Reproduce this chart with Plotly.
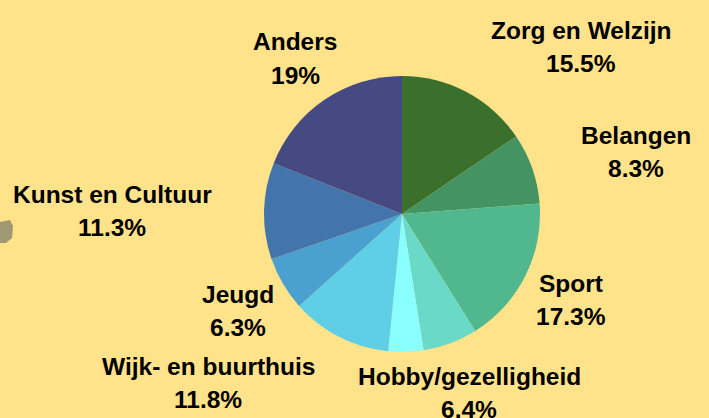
import plotly.graph_objects as go

categories = ["Zorg en Welzijn", "Belangen", "Sport", "Hobby/gezelligheid", "Overig",
              "Wijk- en buurthuis", "Jeugd", "Kunst en Cultuur", "Anders"]
values = [15.5, 8.3, 17.3, 6.4, 4.1, 11.8, 6.3, 11.3, 19.0]
show_label = [True, True, True, True, False, True, True, True, True]
colors = ["#3B702C", "#439462", "#50B78E", "#6AD9C7", "#8AFFFF",
          "#5FCFE7", "#4AA1CF", "#4474AC", "#454A82"]
# label centre positions in pixels (x, y of first line from top)
label_pos = [(581, 30), (636, 135), (571, 283), (469, 376), None,
             (208, 366), (238, 294), (112, 194), (295, 42)]

W, H = 709, 418
cx, cy, r = 402, 214, 138

fig = go.Figure(go.Pie(
    labels=categories, values=values, sort=False, direction="clockwise",
    rotation=0, textinfo="none", hoverinfo="label+percent",
    marker=dict(colors=colors, line=dict(width=0)),
    domain=dict(x=[(cx - r) / W, (cx + r) / W], y=[(H - cy - r) / H, (H - cy + r) / H]),
    showlegend=False,
))

annotations = []
font = dict(family="Liberation Sans, Arial, sans-serif", size=24.5, color="#000000")
for cat, v, show, pos in zip(categories, values, show_label, label_pos):
    if not show:
        continue
    x, y = pos
    for i, txt in enumerate([f"<b>{cat}</b>", f"<b>{v:g}%</b>"]):
        annotations.append(dict(
            text=txt, x=x / W, y=1 - (y + 33 * i) / H, xref="paper", yref="paper",
            xanchor="center", yanchor="middle", showarrow=False, font=font))

fig.update_layout(
    width=W, height=H, margin=dict(l=0, r=0, t=0, b=0),
    paper_bgcolor="#FFE38A", plot_bgcolor="#FFE38A",
    annotations=annotations,
    shapes=[dict(type="path", xref="paper", yref="paper",
                 path=f"M 0 {1-222/H} L {10/W} {1-220/H} L {13/W} {1-226/H} L {12/W} {1-238/H} "
                      f"L {6/W} {1-243/H} L 0 {1-243/H} Z",
                 fillcolor="#A09870", line=dict(width=0))],
)

fig.write_html("out.html", config={"displayModeBar": False},
               post_script="document.body.style.margin='0';document.body.style.overflow='hidden';")
